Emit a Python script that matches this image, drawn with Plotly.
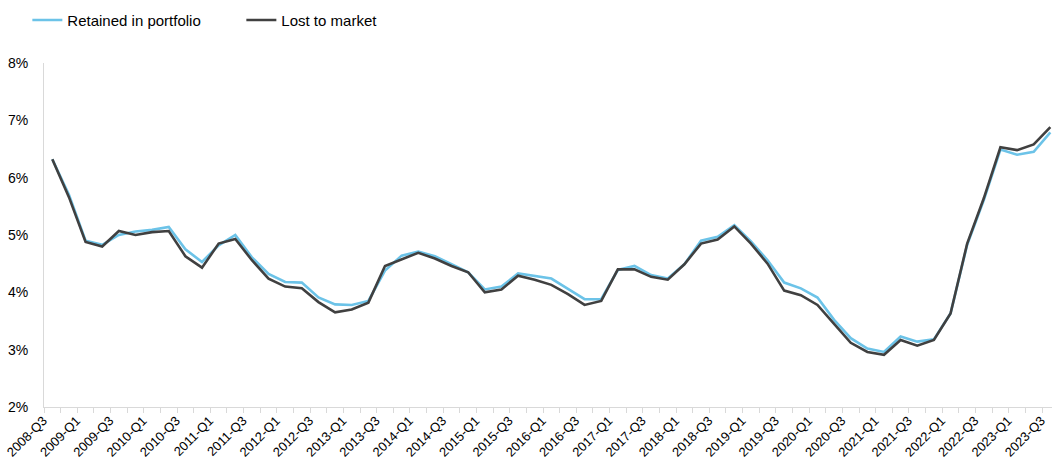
import plotly.graph_objects as go

# Quarterly periods, 2008-Q3 .. 2023-Q3
quarters = [f"{y}-Q{q}" for y in range(2008, 2024) for q in range(1, 5)]
quarters = quarters[2:quarters.index("2023-Q3") + 1]

# Rates in percent
retained = [
    6.32, 5.70, 4.90, 4.83, 5.00, 5.06, 5.09, 5.14, 4.75, 4.53,
    4.82, 5.00, 4.61, 4.32, 4.18, 4.17, 3.91, 3.79, 3.78, 3.85,
    4.38, 4.64, 4.71, 4.63, 4.49, 4.35, 4.05, 4.10, 4.33, 4.28,
    4.24, 4.06, 3.88, 3.88, 4.39, 4.46, 4.30, 4.24, 4.49, 4.90,
    4.97, 5.17, 4.89, 4.56, 4.17, 4.07, 3.91, 3.52, 3.20, 3.02,
    2.96, 3.23, 3.14, 3.18, 3.63, 4.83, 5.61, 6.49, 6.40, 6.45,
    6.79,
]
lost = [
    6.32, 5.66, 4.88, 4.80, 5.07, 5.00, 5.05, 5.07, 4.63, 4.43,
    4.85, 4.93, 4.56, 4.24, 4.10, 4.07, 3.83, 3.65, 3.70, 3.82,
    4.46, 4.57, 4.69, 4.59, 4.46, 4.35, 4.00, 4.05, 4.29, 4.22,
    4.13, 3.97, 3.78, 3.85, 4.40, 4.40, 4.27, 4.22, 4.49, 4.85,
    4.92, 5.15, 4.85, 4.50, 4.03, 3.95, 3.78, 3.45, 3.12, 2.96,
    2.91, 3.17, 3.07, 3.17, 3.63, 4.85, 5.64, 6.53, 6.48, 6.58,
    6.88,
]

y_ticks = [2, 3, 4, 5, 6, 7, 8]
y_tick_labels = [f"{v}%" for v in y_ticks]

FONT = "Liberation Sans, Arial, sans-serif"
AXIS_GREY = "#D9D9D9"

fig = go.Figure()
fig.add_trace(go.Scatter(
    x=quarters, y=retained, name="Retained in portfolio", mode="lines",
    line=dict(color="#6CC3E8", width=2.6),
))
fig.add_trace(go.Scatter(
    x=quarters, y=lost, name="Lost to market", mode="lines",
    line=dict(color="#404040", width=2.6),
))

# label every other quarter; tick marks on every category boundary
tick_text = [q if i % 2 == 0 else "" for i, q in enumerate(quarters)]

fig.update_layout(
    width=1052, height=466,
    margin=dict(l=44, r=0, t=63, b=59),
    paper_bgcolor="white", plot_bgcolor="white",
    font=dict(family=FONT, color="#000000", size=13),
    showlegend=True,
    legend=dict(
        orientation="h", xref="container", yref="container",
        x=0.026, y=0.992, xanchor="left", yanchor="top",
        font=dict(size=15), entrywidth=169, entrywidthmode="pixels",
        bgcolor="rgba(0,0,0,0)", tracegroupgap=0,
    ),
    xaxis=dict(
        type="category", range=[-0.5, 60.1],
        tickmode="array", tickvals=quarters, ticktext=tick_text,
        tickson="boundaries", ticks="outside", ticklen=5,
        tickcolor=AXIS_GREY, tickwidth=1,
        tickangle=-45, tickfont=dict(size=13), ticklabelshift=-9,
        showline=True, linecolor=AXIS_GREY, linewidth=1,
        showgrid=False, zeroline=False,
    ),
    yaxis=dict(
        range=[2, 8], tickmode="array", tickvals=y_ticks,
        ticktext=y_tick_labels,
        tickfont=dict(size=14), ticks="", ticklabelstandoff=12,
        showline=True, linecolor=AXIS_GREY, linewidth=1,
        showgrid=False, zeroline=False,
    ),
)

fig.write_html("out.html")
